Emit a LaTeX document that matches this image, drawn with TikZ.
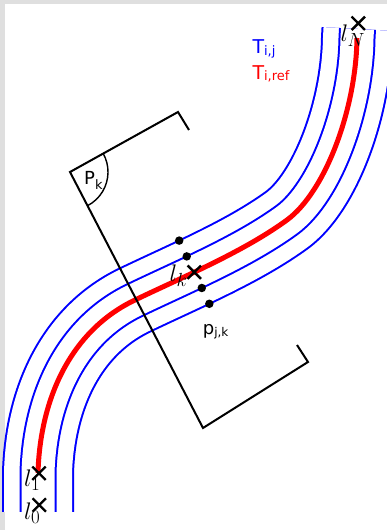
\RequirePackage{fix-cm}
\documentclass[tikz,border=0pt]{standalone}
\usepackage{fontspec}
\newfontfamily\sanslabel{DejaVu Sans}
\usetikzlibrary{calc, shapes.misc}
\DeclareMathSizes{24}{24}{19}{14}

\newcommand{\lowsub}[3]{\raisebox{-#1}{\fontsize{#2}{#2}\selectfont #3}}

\begin{document}
\begin{tikzpicture}[
  x=1pt, y=1pt,
  band/.style={line width=#1, line join=round, line cap=butt},
  reftrack/.style={red, line width=5pt, line join=round},
  plane/.style={black, line width=2pt, line join=miter},
  xmark/.style={cross out, draw=black, line width=2.4pt, inner sep=0pt,
                minimum size=11pt},
  dot/.style={circle, fill=black, inner sep=0pt, minimum size=8.5pt},
  sanslbl/.style={font=\sanslabel\fontsize{#1}{#1}\selectfont,
                  inner sep=0pt, anchor=base west},
  mathlbl/.style={font=\fontsize{24}{24}\selectfont, inner sep=0pt,
                  anchor=base west},
]
%% ---------- Frame ------------------------------------------------
\fill[gray!25] (0,0) rectangle (387,530);
\fill[white] (5,0) rectangle (387,526);
\useasboundingbox (0,0) rectangle (387,530);
\clip (0,0) rectangle (387,530);

%% ---------- Trajectories T_{i,j} (offset band) --------------------
\foreach \w/\c in {72/blue, 68/white, 37/blue, 33/white}
  \draw[band=\w pt, \c] (38,18) -- (38,57)
      .. controls (40,130) and (70,199) .. (135,230)
      .. controls (185,254) and (243,278) .. (287,310)
      .. controls (325,338) and (356,420) .. (357,492) -- (357.5,501);

%% ---------- Reference trajectory T_{i,ref} -----------------------
\draw[reftrack] (38,57)
      .. controls (40,130) and (70,199) .. (135,230)
      .. controls (185,254) and (243,278) ..
         coordinate[pos=0.38] (lkpos) coordinate[pos=0.40] (lkdir) (287,310)
      .. controls (325,338) and (356,420) .. (357,492);

%% ---------- Plane P_k --------------------------------------------
\coordinate (pa) at (70,358);
\coordinate (pb) at (178,418);
\coordinate (pbt) at (189,400);
\coordinate (pc) at (203,102);
\coordinate (pd) at (308,168);
\coordinate (pdt) at (297,185);
\draw[plane] (pbt) -- (pb) -- (pa) -- (pc) -- (pd) -- (pdt);
\draw[black, line width=1.4pt] ($(pa)+(29:38)$)
      arc[start angle=29, end angle=-62.5, radius=38];

%% ---------- Points p_{j,k} ----------------------------------------
\foreach \off/\n in {35/a, 17.5/b, -17.5/c, -35/d}
  \node[dot] (p\n) at ($(lkpos)!\off pt!90:(lkdir)$) {};

%% ---------- Crosses l_0, l_1, l_k, l_N ---------------------------
\node[xmark] (l0) at (39.3,25) {};
\node[xmark] (l1) at (39,56.7) {};
\node[xmark] (lk) at (lkpos) {};
\node[xmark] (lN) at (358.3,506.7) {};

%% ---------- Labels -----------------------------------------------
\node[mathlbl] (l0txt) at (24,10)      {$l_0$};
\node[mathlbl] (l1txt) at (24,43.3)    {$l_1$};
\node[mathlbl] (lktxt) at (169.5,248.3) {$l_k$};
\node[mathlbl] (lNtxt) at (340.5,488.3) {$l_N$};

\node[sanslbl=19, text=blue] (tij)  at (252.3,476)
      {T\lowsub{1.5pt}{13}{i,j}};
\node[sanslbl=19, text=red]  (tref) at (252.3,450.5)
      {T\lowsub{1.5pt}{13}{i,ref}};
\node[sanslbl=18] (pk)  at (84,345)    {P\lowsub{5pt}{13}{k}};
\node[sanslbl=18] (pjk) at (202.7,195) {p\lowsub{2pt}{12}{j,k}};
\end{tikzpicture}
\end{document}
